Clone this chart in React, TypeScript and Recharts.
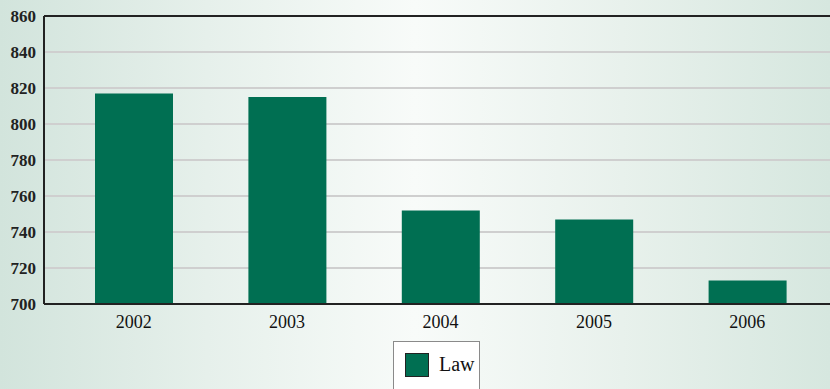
import { BarChart, Bar, XAxis, YAxis, CartesianGrid, ReferenceLine } from "recharts";

const years = ["2002", "2003", "2004", "2005", "2006"];
const lawValues = [817, 815, 752, 747, 713];
const yTicks = [700, 720, 740, 760, 780, 800, 820, 840, 860];

const data = years.map((year, i) => ({ year, law: lawValues[i] }));

const FONT = "'Liberation Serif', 'DejaVu Serif', serif";
const GREEN = "#006f52";

function LawLegend() {
  return (
    <div
      style={{
        position: "absolute",
        left: 393,
        top: 341,
        width: 87,
        height: 60,
        boxSizing: "border-box",
        border: "1px solid #8a8a8a",
        background: "#ffffff",
        display: "flex",
        alignItems: "flex-start",
        paddingTop: 11,
        paddingLeft: 11,
        fontFamily: FONT,
      }}
    >
      <span
        style={{
          display: "inline-block",
          width: 24,
          height: 24,
          boxSizing: "border-box",
          background: GREEN,
          border: "1px solid #222",
        }}
      />
      <span style={{ marginLeft: 10, marginTop: 0, fontSize: 20, color: "#111" }}>
        Law
      </span>
    </div>
  );
}

export default function App() {
  return (
    <div
      style={{
        position: "fixed",
        left: 0,
        top: 0,
        width: 830,
        height: 389,
        overflow: "hidden",
        background:
          "linear-gradient(90deg, #d2e4dc 0%, #e6f0eb 25%, #f8fbf9 50%, #e8f1ec 75%, #d6e7df 100%)",
      }}
    >
      <BarChart
        width={830}
        height={389}
        data={data}
        margin={{ top: 16, right: 0, bottom: 0, left: 0 }}
      >
        <CartesianGrid vertical={false} stroke="#cfcfcf" strokeWidth={2} />
        <XAxis
          dataKey="year"
          height={85}
          padding={{ left: 13, right: 6 }}
          tickLine={false}
          tickMargin={5}
          axisLine={{ stroke: "#222", strokeWidth: 2 }}
          tick={{ fill: "#111", fontFamily: FONT, fontSize: 18 }}
        />
        <YAxis
          width={44}
          domain={[700, 860]}
          ticks={yTicks}
          interval={0}
          allowDataOverflow
          tickLine={false}
          axisLine={{ stroke: "#222", strokeWidth: 2 }}
          tick={{ fill: "#222", fontFamily: FONT, fontSize: 17, fontWeight: "bold" }}
        />
        <ReferenceLine y={860} stroke="#222" strokeWidth={2} />
        <Bar dataKey="law" name="Law" fill={GREEN} barSize={78} isAnimationActive={false} />
      </BarChart>
      <LawLegend />
    </div>
  );
}
